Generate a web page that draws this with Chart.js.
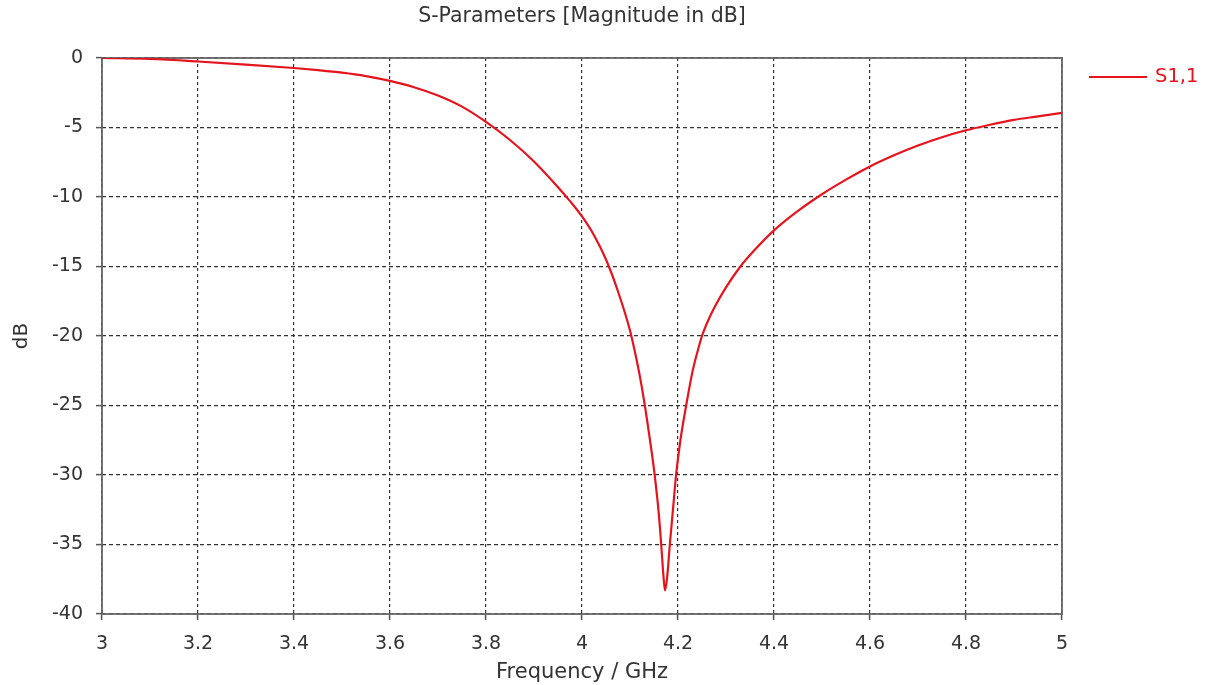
<!DOCTYPE html>
<html>
<head>
<meta charset="utf-8">
<script src="https://cdn.jsdelivr.net/npm/chart.js@4/dist/chart.umd.min.js"></script>
<style>
  body { margin: 0; background: #fff; }
  #chart { display: block; }
</style>
</head>
<body>
<canvas id="chart" width="1205" height="685"></canvas>
<script>
// frequency in GHz, S1,1 magnitude in dB
const freqs = [
  3.0, 3.1, 3.2, 3.3, 3.4, 3.45, 3.5, 3.55, 3.6, 3.65, 3.7, 3.75, 3.8, 3.85, 3.9, 3.95, 3.975,
  4.0, 4.025, 4.05, 4.075, 4.1, 4.11, 4.12, 4.13, 4.14, 4.15, 4.16, 4.165, 4.17, 4.173,
  4.177, 4.183, 4.19, 4.196, 4.205, 4.217, 4.23, 4.24, 4.25, 4.26, 4.275, 4.3, 4.33, 4.36, 4.4,
  4.45, 4.5, 4.55, 4.6, 4.65, 4.7, 4.75, 4.8, 4.85, 4.9, 4.95, 5.0
];
const s11 = [
  0, -0.07, -0.25, -0.47, -0.72, -0.87, -1.05, -1.3, -1.65, -2.1, -2.7, -3.5, -4.6, -5.9, -7.45, -9.3, -10.3,
  -11.4, -12.75, -14.5, -16.8, -19.6, -21.1, -22.8, -24.8, -27.1, -29.6, -32.8, -35.0, -37.4, -38.3,
  -37.5, -35.0, -32.3, -30.0, -27.5, -25.0, -22.6, -21.2, -20.0, -19.1, -18.0, -16.5, -15.0, -13.8, -12.4,
  -11.0, -9.8, -8.75, -7.8, -7.0, -6.3, -5.7, -5.2, -4.8, -4.45, -4.2, -3.95
];
const freqTicks = [3, 3.2, 3.4, 3.6, 3.8, 4, 4.2, 4.4, 4.6, 4.8, 5];
const dbTicks = [0, -5, -10, -15, -20, -25, -30, -35, -40];

const seriesLabel = "S1,1";
const lineColor = "#e3141e";
const textColor = "#333";
const fontFamily = "'DejaVu Sans', Verdana, sans-serif";

// title, plot frame and legend drawn by hand so they sit like the reference
const framePlugin = {
  id: "frame",
  beforeDatasetsDraw(chart) {
    const { ctx, chartArea: a } = chart;
    ctx.save();
    ctx.strokeStyle = "#666";
    ctx.lineWidth = 1.8;
    ctx.strokeRect(a.left, a.top, a.right - a.left, a.bottom - a.top);
    ctx.restore();
  },
  afterDraw(chart) {
    const { ctx, chartArea: a } = chart;
    ctx.save();
    ctx.font = "20.5px " + fontFamily;
    ctx.fillStyle = textColor;
    ctx.textAlign = "center";
    ctx.textBaseline = "middle";
    ctx.fillText("S-Parameters [Magnitude in dB]", (a.left + a.right) / 2, 17);

    // legend
    ctx.strokeStyle = lineColor;
    ctx.lineWidth = 2;
    ctx.beginPath();
    ctx.moveTo(1089, 77);
    ctx.lineTo(1147, 77);
    ctx.stroke();
    ctx.font = "19.5px " + fontFamily;
    ctx.fillStyle = lineColor;
    ctx.textAlign = "left";
    ctx.fillText(seriesLabel, 1155, 77);
    ctx.restore();
  },
};

new Chart(document.getElementById("chart"), {
  type: "line",
  data: {
    datasets: [
      {
        label: seriesLabel,
        data: freqs.map((f, i) => ({ x: f, y: s11[i] })),
        borderColor: lineColor,
        borderWidth: 2.2,
        pointRadius: 0,
        cubicInterpolationMode: "monotone",
        fill: false,
      },
    ],
  },
  options: {
    responsive: false,
    animation: false,
    layout: { padding: { top: 58, right: 143, left: 0, bottom: 0 } },
    plugins: {
      legend: { display: false },
      title: { display: false },
      tooltip: { enabled: false },
    },
    scales: {
      x: {
        type: "linear",
        min: 3,
        max: 5,
        afterBuildTicks: (scale) => {
          scale.ticks = freqTicks.map((v) => ({ value: v }));
        },
        afterFit: (scale) => {
          scale.height = 71;
        },
        ticks: {
          color: textColor,
          font: { family: fontFamily, size: 19 },
          padding: 13,
          maxRotation: 0,
          callback: (v) => String(v),
        },
        grid: {
          color: "#333",
          lineWidth: 1.2,
          tickLength: 6,
          tickColor: "#555",
          tickWidth: 1.5,
        },
        border: { display: false, dash: [3, 3] },
        title: {
          display: true,
          text: "Frequency / GHz",
          color: textColor,
          font: { family: fontFamily, size: 21 },
          padding: { top: 2, bottom: 0 },
        },
      },
      y: {
        type: "linear",
        min: -40,
        max: 0,
        afterBuildTicks: (scale) => {
          scale.ticks = dbTicks.map((v) => ({ value: v }));
        },
        afterFit: (scale) => {
          scale.width = 102;
        },
        ticks: {
          color: textColor,
          font: { family: fontFamily, size: 19 },
          padding: 13,
          callback: (v) => String(v),
        },
        grid: {
          color: "#333",
          lineWidth: 1.2,
          tickLength: 6,
          tickColor: "#555",
          tickWidth: 1.5,
        },
        border: { display: false, dash: [4, 3] },
        title: {
          display: true,
          text: "dB",
          color: textColor,
          font: { family: fontFamily, size: 20 },
          padding: { top: 10, bottom: 0 },
        },
      },
    },
  },
  plugins: [framePlugin],
});
</script>
</body>
</html>
